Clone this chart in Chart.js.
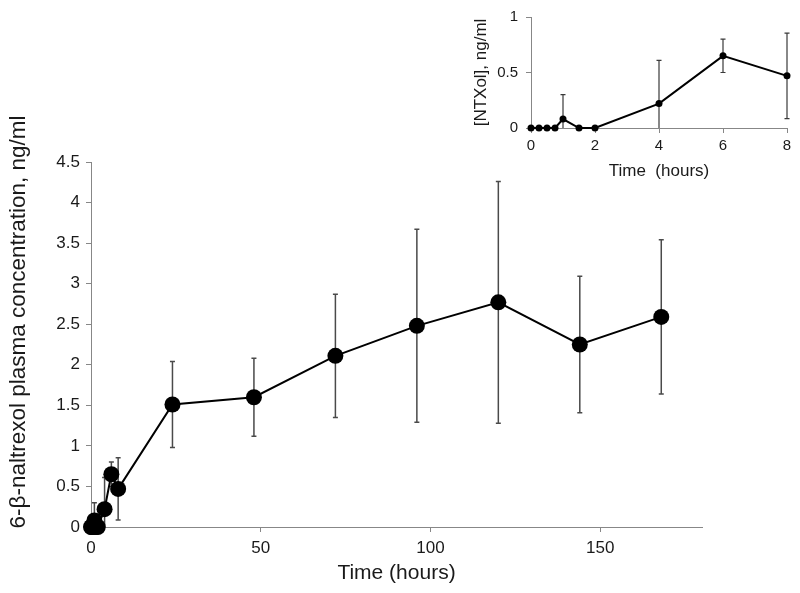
<!DOCTYPE html>
<html>
<head>
<meta charset="utf-8">
<script src="https://cdn.jsdelivr.net/npm/chart.js@4.4.0/dist/chart.umd.min.js"></script>
<style>
  html, body { margin: 0; padding: 0; background: #fff; }
  #wrap { position: relative; width: 800px; height: 593px; }
  #mainChart { position: absolute; left: 0; top: 0; }
  #insetChart { position: absolute; left: 460px; top: 0; }
</style>
</head>
<body>
<div id="wrap">
  <canvas id="mainChart" width="800" height="593"></canvas>
  <canvas id="insetChart" width="340" height="190"></canvas>
</div>
<script>
// --- DATA ---
const hours = [0, 0.25, 0.5, 0.75, 1, 1.5, 2, 4, 6, 8, 24, 48, 72, 96, 120, 144, 168];
const concentration = [0, 0, 0, 0, 0.08, 0, 0, 0.22, 0.65, 0.47, 1.51, 1.60, 2.11, 2.48, 2.77, 2.25, 2.59];
const errorSD = [0, 0, 0, 0, 0.22, 0, 0, 0.39, 0.15, 0.385, 0.53, 0.48, 0.76, 1.19, 1.49, 0.84, 0.95];

const mainXTicks = [0, 50, 100, 150];
const mainYTicks = [0, 0.5, 1, 1.5, 2, 2.5, 3, 3.5, 4, 4.5];
const insetXTicks = [0, 2, 4, 6, 8];
const insetYTicks = [0, 0.5, 1];
const insetLastHour = 8;

const FONT = "'Liberation Sans', Arial, sans-serif";
const TEXT = '#1a1a1a';
const AXIS = '#878787';

// --- HELPERS ---
function toPoints(limit) {
    return hours
        .map((h, i) => ({ x: h, y: concentration[i] }))
        .filter(p => p.x <= limit);
}

const errorBars = {
    id: 'errorBars',
    beforeDatasetsDraw(chart, args, opts) {
        const { ctx, scales: { x, y } } = chart;
        const ds = chart.data.datasets[0];
        ctx.save();
        ctx.strokeStyle = opts.color;
        ctx.lineWidth = opts.width;
        ds.data.forEach((p, i) => {
            const e = ds.errors[i];
            if (!e) return;
            const px = x.getPixelForValue(p.x);
            const top = y.getPixelForValue(p.y + e);
            const lowVal = p.y - e;
            const bot = y.getPixelForValue(Math.max(lowVal, y.min));
            ctx.beginPath();
            ctx.moveTo(px, top);
            ctx.lineTo(px, bot);
            ctx.moveTo(px - opts.cap, top);
            ctx.lineTo(px + opts.cap, top);
            if (lowVal > y.min) {
                ctx.moveTo(px - opts.cap, bot);
                ctx.lineTo(px + opts.cap, bot);
            }
            ctx.stroke();
        });
        ctx.restore();
    }
};

// y title of the big chart sits a bit above the centre of its axis, so draw it by hand
const sideTitle = {
    id: 'sideTitle',
    afterDraw(chart, args, opts) {
        if (!opts.text) return;
        const { ctx } = chart;
        ctx.save();
        ctx.translate(opts.x, opts.y);
        ctx.rotate(-Math.PI / 2);
        ctx.font = opts.font;
        ctx.fillStyle = TEXT;
        ctx.textAlign = 'center';
        ctx.textBaseline = 'middle';
        ctx.fillText(opts.text, 0, 0);
        ctx.restore();
    }
};

function axisOpts(ticks, min, max, fontSize, pad) {
    return {
        type: 'linear',
        min: min,
        max: max,
        afterBuildTicks: scale => { scale.ticks = ticks.map(v => ({ value: v })); },
        grid: { display: true, drawOnChartArea: false, drawTicks: true, tickLength: 5, tickColor: AXIS, lineWidth: 1 },
        border: { display: true, color: AXIS, width: 1 },
        ticks: {
            color: TEXT,
            padding: pad,
            font: { family: FONT, size: fontSize },
            callback: v => String(v)
        }
    };
}

// --- MAIN CHART ---
const mainX = axisOpts(mainXTicks, 0, 180, 17, 6);
mainX.title = { display: true, text: 'Time (hours)', color: TEXT, font: { family: FONT, size: 21 }, padding: { top: 0, bottom: 7 } };
mainX.afterFit = scale => { scale.height = 66; };
const mainY = axisOpts(mainYTicks, 0, 4.5, 17, 6);
mainY.afterFit = scale => { scale.width = 91; };

new Chart(document.getElementById('mainChart'), {
    type: 'line',
    data: {
        datasets: [{
            data: toPoints(Infinity),
            errors: errorSD,
            borderColor: '#000',
            borderWidth: 2,
            backgroundColor: '#000',
            pointRadius: 8,
            pointHoverRadius: 8,
            pointBorderWidth: 0,
            clip: false
        }]
    },
    options: {
        responsive: false,
        animation: false,
        layout: { padding: { left: 0, top: 162, right: 98, bottom: 0 } },
        plugins: {
            legend: { display: false },
            tooltip: { enabled: false },
            errorBars: { color: '#4a4a4a', width: 1.5, cap: 2.5 },
            sideTitle: { text: '6-β-naltrexol plasma concentration, ng/ml', x: 19, y: 322, font: '22.5px ' + FONT }
        },
        scales: { x: mainX, y: mainY }
    },
    plugins: [errorBars, sideTitle]
});

// --- INSET CHART ---
const insetX = axisOpts(insetXTicks, 0, 8, 15, 4);
insetX.title = { display: true, text: 'Time  (hours)', color: TEXT, font: { family: FONT, size: 17 }, padding: { top: 0, bottom: 8 } };
insetX.afterFit = scale => { scale.height = 62; };
const insetY = axisOpts(insetYTicks, 0, 1, 15, 8);
insetY.title = { display: true, text: '[NTXol], ng/ml', color: TEXT, font: { family: FONT, size: 17 }, padding: { top: 11, bottom: 0 } };
insetY.afterFit = scale => { scale.width = 71; };

new Chart(document.getElementById('insetChart'), {
    type: 'line',
    data: {
        datasets: [{
            data: toPoints(insetLastHour),
            errors: errorSD,
            borderColor: '#000',
            borderWidth: 2,
            backgroundColor: '#000',
            pointRadius: 3.5,
            pointHoverRadius: 3.5,
            pointBorderWidth: 0,
            clip: false
        }]
    },
    options: {
        responsive: false,
        animation: false,
        layout: { padding: { left: 0, top: 13, right: 13, bottom: 0 } },
        plugins: {
            legend: { display: false },
            tooltip: { enabled: false },
            errorBars: { color: '#3a3a3a', width: 1.2, cap: 2.5 }
        },
        scales: { x: insetX, y: insetY }
    },
    plugins: [errorBars]
});
</script>
</body>
</html>
